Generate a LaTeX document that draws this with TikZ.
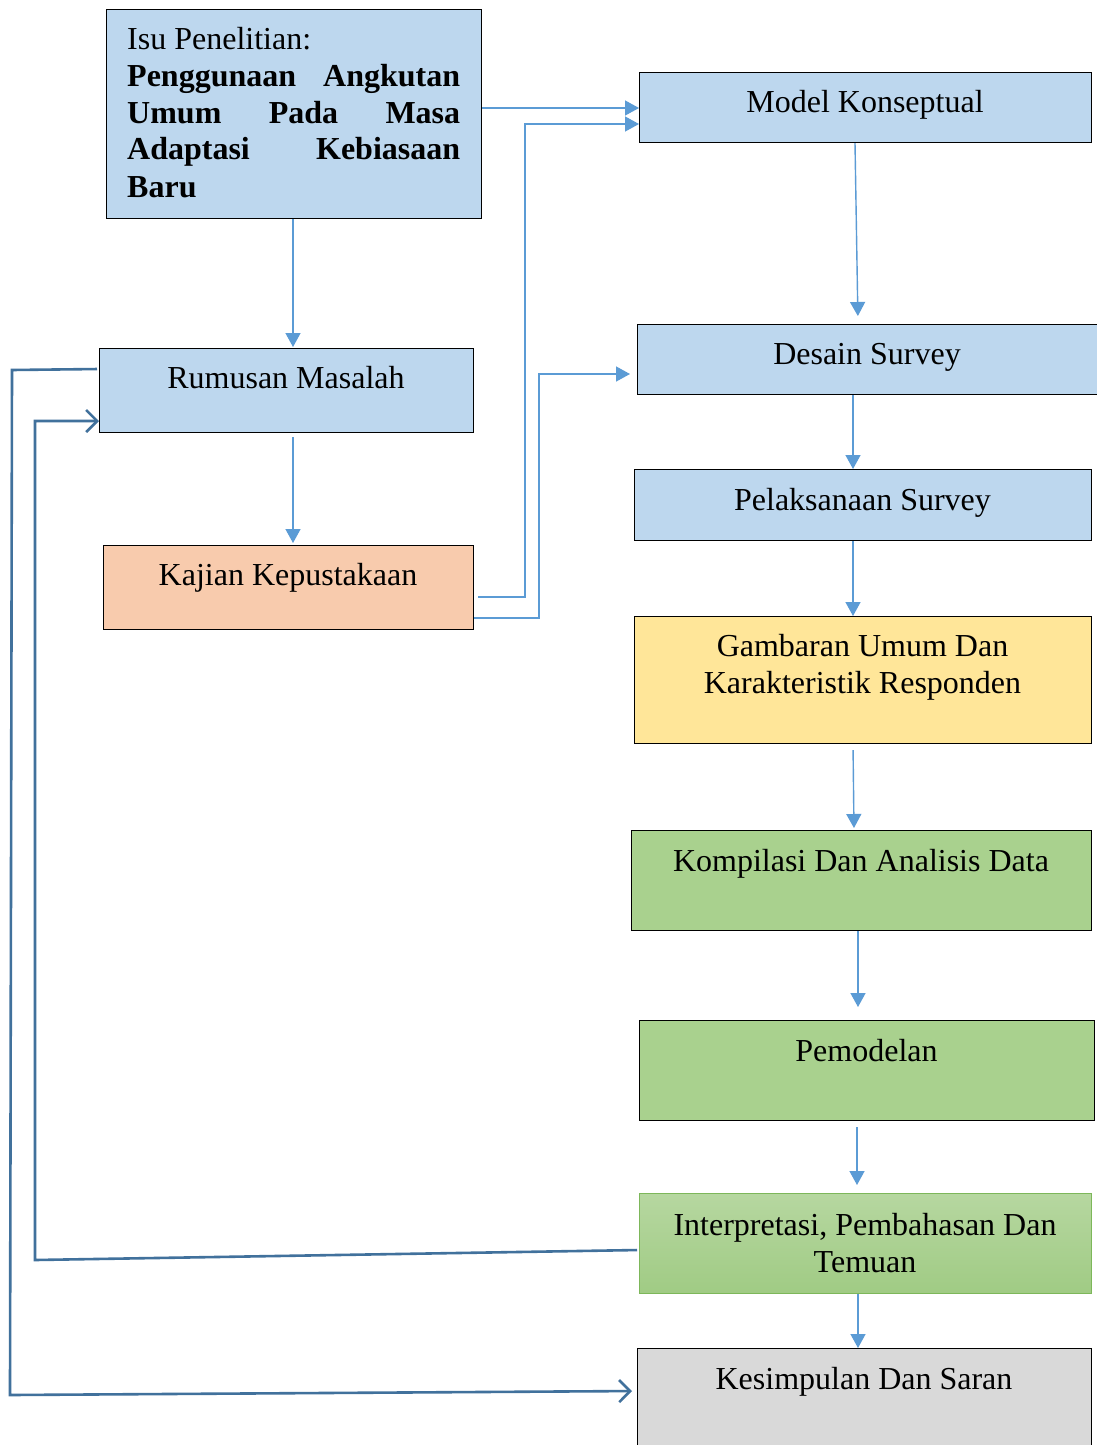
\documentclass[tikz,border=0pt]{standalone}
\usepackage{fontspec}
\setmainfont{Liberation Serif}
\usetikzlibrary{arrows.meta}
\definecolor{cBlue}{HTML}{BDD7EE}
\definecolor{cPeach}{HTML}{F8CBAD}
\definecolor{cYellow}{HTML}{FFE699}
\definecolor{cGreen}{HTML}{A9D18E}
\definecolor{cGray}{HTML}{D9D9D9}
\definecolor{cLine}{HTML}{5B9BD5}
\definecolor{cFb}{HTML}{41719C}
\definecolor{cGBorder}{HTML}{7DB75A}
\definecolor{cGTop}{HTML}{B6D7A0}
\definecolor{cGBot}{HTML}{A0CB84}
\begin{document}
\begin{tikzpicture}[x=1pt,y=-1pt,
  box/.style={draw=black, line width=1.2pt, inner sep=0pt, anchor=north west},
  txt/.style={anchor=base, inner sep=0pt, font=\fontsize{32}{37}\selectfont},
  la/.style={draw=cLine, line width=1.4pt, -{Triangle[length=14pt,width=15pt]}},
  fb/.style={draw=cFb, line width=2.6pt, line join=miter, -{Straight Barb[length=11pt,width=22pt,line width=2.6pt]}}]
\useasboundingbox[fill=white] (0,0) rectangle (1097,1445);

% boxes
\node[box, fill=cBlue, minimum width=375pt, minimum height=209pt] (isu) at (106,9) {};
\node[box, fill=cBlue, minimum width=452pt, minimum height=70pt] (mk) at (639,72) {};
\node[box, fill=cBlue, minimum width=374pt, minimum height=84pt] (rm) at (99,348) {};
\node[box, fill=cPeach, minimum width=370pt, minimum height=84pt] (kk) at (103,545) {};
\node[box, fill=cBlue, minimum width=460pt, minimum height=70pt] (ds) at (637,324) {};
\node[box, fill=cBlue, minimum width=457pt, minimum height=71pt] (ps) at (634,469) {};
\node[box, fill=cYellow, minimum width=457pt, minimum height=127pt] (gu) at (634,616) {};
\node[box, fill=cGreen, minimum width=460pt, minimum height=100pt] (ka) at (631,830) {};
\node[box, fill=cGreen, minimum width=455pt, minimum height=100pt] (pm) at (639,1020) {};
\node[box, draw=cGBorder, top color=cGTop, bottom color=cGBot, minimum width=452pt, minimum height=100pt] (ip) at (639,1193) {};
\node[box, fill=cGray, minimum width=454pt, minimum height=120pt] (ks) at (637,1348) {};

% texts
\node[anchor=base west, inner sep=0pt, font=\fontsize{32}{37}\selectfont] (isuT) at (127,49)
  {\parbox[t]{333pt}{Isu Penelitian:\par
   \bfseries
   \hbox to 333pt{Penggunaan\hfill Angkutan}
   \hbox to 333pt{Umum\hfill Pada\hfill Masa}
   \hbox to 333pt{Adaptasi\hfill Kebiasaan}
   \hbox to 333pt{Baru\hfill}}};
\node[txt] (mkT) at (865,112) {Model Konseptual};
\node[txt] (rmT) at (286,388) {Rumusan Masalah};
\node[txt] (kkT) at (288,585) {Kajian Kepustakaan};
\node[txt] (dsT) at (867,364) {Desain Survey};
\node[txt] (psT) at (862.5,510) {Pelaksanaan Survey};
\node[txt] (guT) at (862.5,656) {\begin{tabular}[t]{@{}c@{}}Gambaran Umum Dan\\ Karakteristik Responden\end{tabular}};
\node[txt] (kaT) at (861,871) {Kompilasi Dan Analisis Data};
\node[txt] (pmT) at (866.5,1061) {Pemodelan};
\node[txt] (ipT) at (865,1235) {\begin{tabular}[t]{@{}c@{}}Interpretasi, Pembahasan Dan\\ Temuan\end{tabular}};
\node[txt] (ksT) at (864,1389) {Kesimpulan Dan Saran};

% thin arrows
\draw[la] (isu.east |- 0,108) -- (mk.west |- 0,108);
\draw[la, shorten <=4pt] (kk.east |- 0,597) -| (525,124) -- (mk.west |- 0,124);
\draw[la, shorten >=7pt] (kk.east |- 0,618) -| (539,374) -- (ds.west |- 0,374);
\draw[la, shorten >=1pt] (isu.south -| 293,0) -- (rm.north -| 293,0);
\draw[la, shorten <=4pt, shorten >=2pt] (rm.south -| 293,0) -- (kk.north -| 293,0);
\draw[la, shorten >=8pt] (mk.south -| 855,0) -- (ds.north -| 858,0);
\draw[la] (ds.south -| 853,0) -- (ps.north -| 853,0);
\draw[la] (ps.south -| 853,0) -- (gu.north -| 853,0);
\draw[la, shorten <=6pt, shorten >=2pt] (gu.south -| 853,0) -- (ka.north -| 854,0);
\draw[la, shorten >=13pt] (ka.south -| 858,0) -- (pm.north -| 858,0);
\draw[la, shorten <=6pt, shorten >=8pt] (pm.south -| 857,0) -- (ip.north -| 857,0);
\draw[la] (ip.south -| 858,0) -- (ks.north -| 858,0);

% feedback arrows
\draw[fb, shorten <=2pt, shorten >=5pt] (rm.west |- 0,369) -- (12,370) -- (10,1395) -- (ks.west |- 0,1391);
\draw[fb, shorten <=2pt] (ip.west |- 0,1250) -- (35,1260) -- (35,421) -- (rm.west |- 0,421);
\end{tikzpicture}
\end{document}
